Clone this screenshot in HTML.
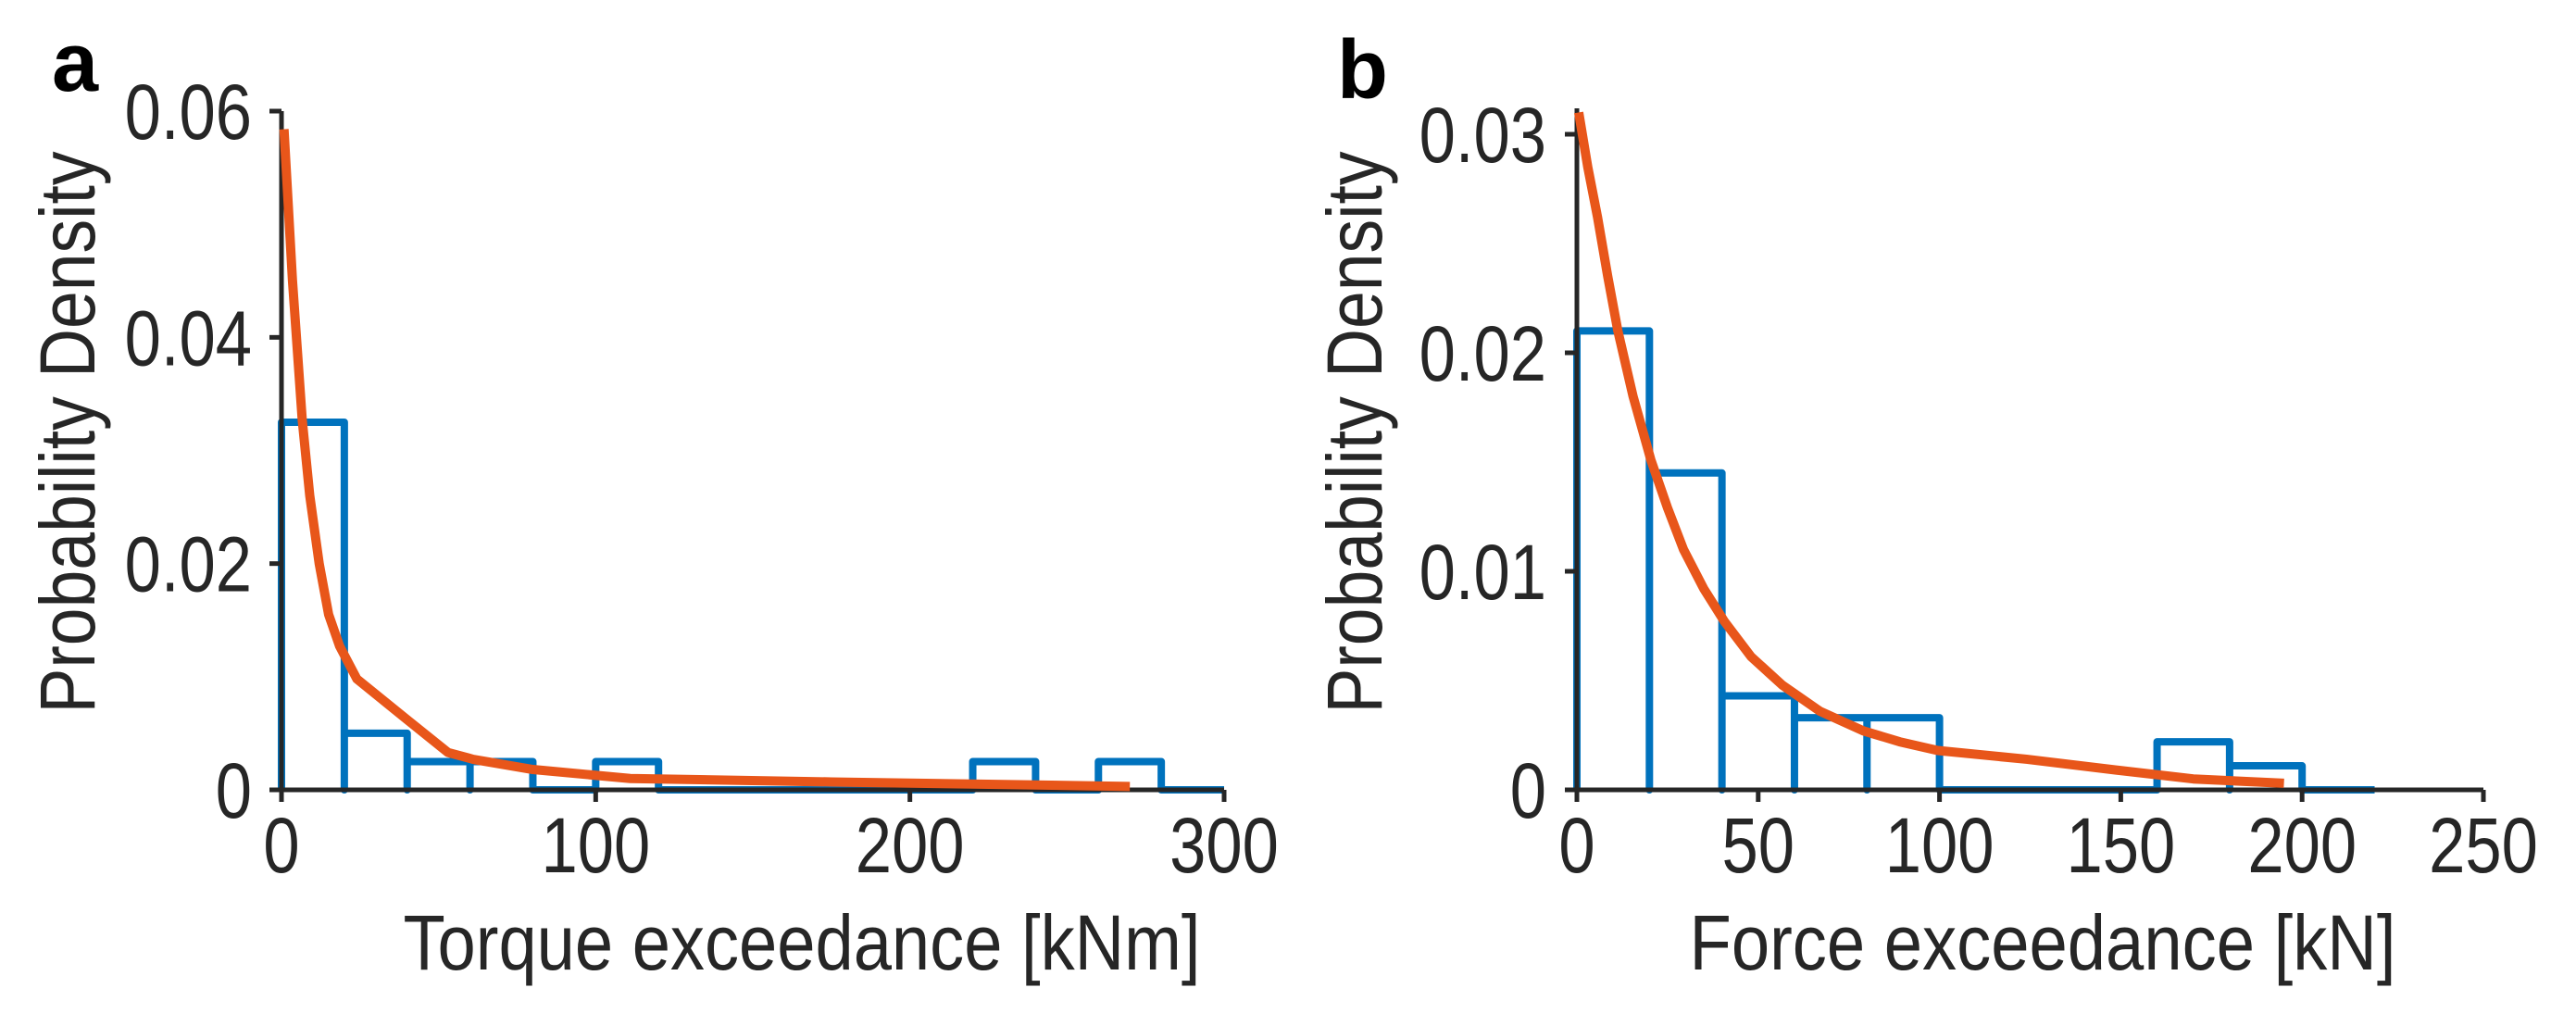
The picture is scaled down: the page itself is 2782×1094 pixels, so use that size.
<!DOCTYPE html>
<html><head><meta charset="utf-8"><style>
html,body{margin:0;padding:0;background:#fff;}
svg{display:block;font-family:"Liberation Sans",Arial,sans-serif;}
</style></head><body>
<svg id="chart" width="2782" height="1094" viewBox="0 0 2782 1094" xmlns="http://www.w3.org/2000/svg"></svg>
<script>
// Panel a data
const binsA = [0.0325, 0.005, 0.0025, 0.0025, 0, 0.0025, 0, 0, 0, 0, 0, 0.0025, 0, 0.0025, 0];
const curveAx = [0.8, 3.5, 6.6, 9, 12, 15, 18.5, 24, 32, 40, 53, 61, 80, 111, 175, 270];
const curveAy = [0.0584, 0.045, 0.0327, 0.026, 0.020, 0.0155, 0.0127, 0.0098, 0.008, 0.0062, 0.0033, 0.0027, 0.0018, 0.001, 0.0007, 0.0003];
const xTicksA = [0, 100, 200, 300];
const yTicksA = [0, 0.02, 0.04, 0.06];
const yTickLabelsA = ["0", "0.02", "0.04", "0.06"];
// Panel b data
const binsB = [0.021, 0.0145, 0.0043, 0.0033, 0.0033, 0, 0, 0, 0.0022, 0.0011, 0];
const curveBx = [0.5, 3, 5.7, 8.5, 11.3, 15.5, 20.4, 25, 29.4, 35, 40.7, 48, 56.6, 67, 79, 89, 99.5, 124, 149, 170, 195];
const curveBy = [0.031, 0.0285, 0.0262, 0.0235, 0.021, 0.018, 0.0151, 0.0129, 0.011, 0.0092, 0.0077, 0.0061, 0.0048, 0.0036, 0.0027, 0.0022, 0.0018, 0.0014, 0.0009, 0.0005, 0.0003];
const xTicksB = [0, 50, 100, 150, 200, 250];
const yTicksB = [0, 0.01, 0.02, 0.03];
const yTickLabelsB = ["0", "0.01", "0.02", "0.03"];
const binWidth = 20;

const NS = "http://www.w3.org/2000/svg";
const svg = document.getElementById('chart');
function mk(tag, attrs, parent) {
  const e = document.createElementNS(NS, tag);
  for (const k in attrs) e.setAttribute(k, attrs[k]);
  (parent || svg).appendChild(e);
  return e;
}

function panel(cfg) {
  const g = mk('g', {});
  
  
  const sx = v => cfg.x0 + (v - cfg.xmin) * (cfg.x1 - cfg.x0) / (cfg.xmax - cfg.xmin);
  const sy = v => cfg.y0 - v * (cfg.y0 - cfg.y1) / cfg.ymax;

  let d = `M${sx(0)},${sy(0)}`;
  cfg.bins.forEach((v, i) => {
    const l = sx(i * binWidth), r = sx((i + 1) * binWidth);
    d += ` L${l},${sy(v)} L${r},${sy(v)} L${r},${sy(0)}`;
  });
  const hist = mk('path', {d: d, fill: 'none', stroke: '#0072bd', 'stroke-width': 8, 'stroke-linejoin': 'round'}, g);
  
  

  const ax = mk('path', {d: `M${cfg.x0},${cfg.ytop} L${cfg.x0},${cfg.y0} L${cfg.x1},${cfg.y0}`, fill: 'none', stroke: '#262626', 'stroke-width': 5}, g);
  
  

  cfg.xticks.forEach(t => {
    const x = sx(t);
    mk('line', {x1: x, y1: cfg.y0, x2: x, y2: cfg.y0 + 13, stroke: '#262626', 'stroke-width': 5}, g);
    const tx = mk('text', {x: 0, y: 0, 'font-size': 84, fill: '#262626', 'text-anchor': 'middle', transform: `translate(${x},942) scale(0.84,1)`}, g);
    tx.textContent = t;
    
    
  });
  cfg.yticks.forEach((t, i) => {
    const y = sy(t);
    mk('line', {x1: cfg.x0 - 13, y1: y, x2: cfg.x0, y2: y, stroke: '#262626', 'stroke-width': 5}, g);
    const ty = mk('text', {x: 0, y: 0, 'font-size': 84, fill: '#262626', 'text-anchor': 'end', transform: `translate(${cfg.ylabRight},${y + 30}) scale(0.84,1)`}, g);
    ty.textContent = cfg.ylabels[i];
    
    
  });

  let c = '';
  cfg.cx.forEach((v, i) => { c += (i ? ' L' : 'M') + sx(v) + ',' + sy(cfg.cy[i]); });
  const cv = mk('path', {d: c, fill: 'none', stroke: '#e8561a', 'stroke-width': 10, 'stroke-linejoin': 'round'}, g);
  
  

  const xt = mk('text', {x: cfg.xtitleX, y: 1047, 'font-size': 84, fill: '#262626', 'text-anchor': 'middle', textLength: cfg.xtitleLen, lengthAdjust: 'spacingAndGlyphs'}, g);
  xt.textContent = cfg.xtitle;
  
  
  const yt = mk('text', {x: 0, y: 0, 'font-size': 84, fill: '#262626', 'text-anchor': 'middle', textLength: 607, lengthAdjust: 'spacingAndGlyphs', transform: `translate(${cfg.ytitleX},467) rotate(-90)`}, g);
  yt.textContent = 'Probability Density';
  
  
  const pl = mk('text', {x: cfg.labX, y: cfg.labY, 'font-size': 90, 'font-weight': 'bold', fill: '#000'}, g);
  pl.textContent = cfg.letter;
  
  
}

panel({name: 'panel-a-torque', bins: binsA, cx: curveAx, cy: curveAy, xticks: xTicksA, yticks: yTicksA, ylabels: yTickLabelsA,
  x0: 304, x1: 1322, xmin: 0, xmax: 300, y0: 853, y1: 120, ymax: 0.06, ytop: 120,
  ylabRight: 272, xtitle: 'Torque exceedance [kNm]', xtitleX: 866, xtitleLen: 861, ytitleX: 102, labX: 56, labY: 98, letter: 'a'});
panel({name: 'panel-b-force', bins: binsB, cx: curveBx, cy: curveBy, xticks: xTicksB, yticks: yTicksB, ylabels: yTickLabelsB,
  x0: 1703, x1: 2682, xmin: 0, xmax: 250, y0: 853, y1: 145, ymax: 0.03, ytop: 117,
  ylabRight: 1670, xtitle: 'Force exceedance [kN]', xtitleX: 2206, xtitleLen: 763, ytitleX: 1492, labX: 1444, labY: 106, letter: 'b'});
</script>
</body></html>
